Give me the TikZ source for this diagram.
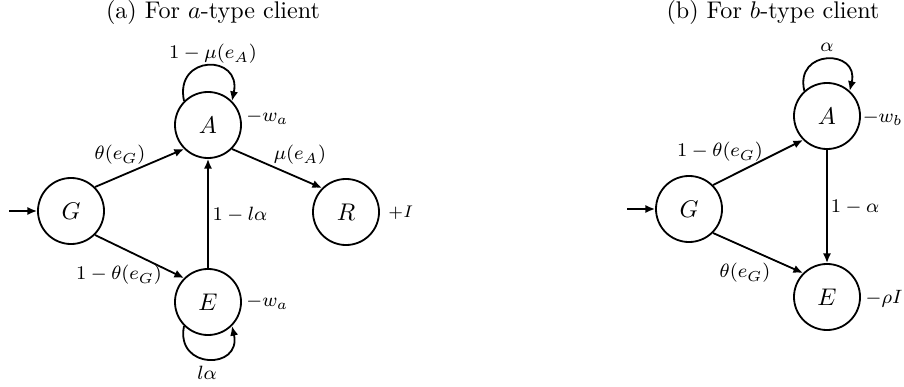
\documentclass[tikz,border=0pt]{standalone}
\usetikzlibrary{arrows.meta}
\begin{document}
\begin{tikzpicture}[x=0.415pt,y=-0.415pt,
  state/.style={draw,circle,line width=0.75pt,minimum size=27.4pt,inner sep=0pt,font=\normalsize},
  arr/.style={-{Latex[length=4pt,width=3.4pt]},line width=0.75pt},
  lbl/.style={font=\footnotesize,inner sep=0pt},
  ttl/.style={font=\normalsize,inner sep=0pt}]
\useasboundingbox (0,0) rectangle (904,387);
% ---------- (a) ----------
\node[ttl] (ta) at (213,12) {(a) For $a$-type client};
\node[state] (aA) at (208,125) {$A$};
\node[state] (aG) at (71,211) {$G$};
\node[state] (aE) at (208,302) {$E$};
\node[state] (aR) at (346,212) {$R$};
\coordinate (aS) at (9,211);
\draw[arr] (aS) -- (aG);
\draw[arr] (aG.45) -- (aA.225);
\draw[arr] (aG.-45) -- (aE.135);
\draw[arr] (aA.-45) -- (aR.135);
\draw[arr] (aE) -- (aA);
\draw[arr] (aA.135) .. controls +(-10,-47) and +(10,-47) .. (aA.45);
\draw[arr] (aE.225) .. controls +(-9,44) and +(10,44) .. (aE.-45);
\node[lbl] (la1) at (213,54) {$1-\mu(e_A)$};
\node[lbl,anchor=west] (la2) at (246,117) {$-w_a$};
\node[lbl] (la3) at (120,155) {$\theta(e_G)$};
\node[lbl] (la4) at (300,155) {$\mu(e_A)$};
\node[lbl] (la5) at (240,215) {$1-l\alpha$};
\node[lbl,font=\scriptsize,anchor=west] (la6) at (388,213) {$+I$};
\node[lbl] (la7) at (119,275) {$1-\theta(e_G)$};
\node[lbl,anchor=west] (la8) at (246,302) {$-w_a$};
\node[lbl] (la9) at (207,373) {$l\alpha$};
% ---------- (b) ----------
\node[ttl] (tb) at (773,12) {(b) For $b$-type client};
\node[state] (bA) at (827,116) {$A$};
\node[state] (bG) at (689,209) {$G$};
\node[state] (bE) at (827,297) {$E$};
\coordinate (bS) at (627,209);
\draw[arr] (bS) -- (bG);
\draw[arr] (bG.45) -- (bA.225);
\draw[arr] (bG.-45) -- (bE.135);
\draw[arr] (bA) -- (bE);
\draw[arr] (bA.132) .. controls +(-10,-42) and +(10,-42) .. (bA.48);
\node[lbl] (lb1) at (827,47) {$\alpha$};
\node[lbl,anchor=east] (lb2) at (903,118) {$-w_b$};
\node[lbl] (lb3) at (720,152) {$1-\theta(e_G)$};
\node[lbl] (lb4) at (855,207) {$1-\alpha$};
\node[lbl] (lb5) at (745,273) {$\theta(e_G)$};
\node[lbl,anchor=east] (lb6) at (903,299) {$-\rho I$};
\end{tikzpicture}
\end{document}
